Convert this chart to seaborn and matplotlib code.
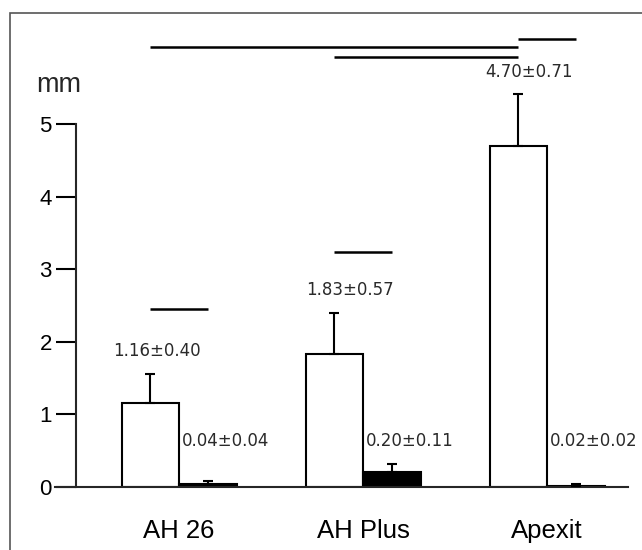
import matplotlib
matplotlib.use('Agg')
import matplotlib.pyplot as plt
import seaborn as sns
import pandas as pd
import numpy as np
from matplotlib.patches import Rectangle

# ---- data ----
categories = ['AH 26', 'AH Plus', 'Apexit']
series = ['Group 1', 'Group 2']
means_1 = [1.16, 1.83, 4.70]
sds_1 = [0.40, 0.57, 0.71]
means_2 = [0.04, 0.20, 0.02]
sds_2 = [0.04, 0.11, 0.02]
y_ticks = [0, 1, 2, 3, 4, 5]
unit_label = 'mm'
# significance bars: (category_a, series_a, category_b, series_b, height)
sig_bars = [
    ('AH 26', 'Group 1', 'AH 26', 'Group 2', 2.45),
    ('AH Plus', 'Group 1', 'AH Plus', 'Group 2', 3.24),
    ('AH 26', 'Group 1', 'Apexit', 'Group 1', 6.06),
    ('AH Plus', 'Group 1', 'Apexit', 'Group 1', 5.92),
    ('Apexit', 'Group 1', 'Apexit', 'Group 2', 6.17),
]
big_label_x = [-0.12, 0.93, 1.90]

sns.set_style('ticks')
plt.rcParams['font.family'] = ['Liberation Sans', 'DejaVu Sans']

df = pd.DataFrame({
    'category': categories * 2,
    'series': [series[0]] * len(categories) + [series[1]] * len(categories),
    'value': means_1 + means_2,
})

W, H = 642, 550
fig = plt.figure(figsize=(W / 100, H / 100), dpi=100)
fig.patch.set_facecolor('white')
ax = fig.add_axes([55 / W, 63 / H, 573 / W, 363 / H])

sns.barplot(data=df, x='category', y='value', hue='series', order=categories,
            hue_order=series, palette={series[0]: 'white', series[1]: 'black'},
            edgecolor='black', linewidth=1.5, width=0.625, errorbar=None,
            legend=False, saturation=1, ax=ax)

ax.set_xlim(-0.674, 2.44)
ax.set_ylim(0, 5)

# bar centres from the drawn patches
centers = {}
for p in ax.patches:
    cx = p.get_x() + p.get_width() / 2
    ci = int(round(cx))
    s = series[0] if cx < ci else series[1]
    centers[(categories[ci], s)] = cx

for s, m, sd in [(series[0], means_1, sds_1), (series[1], means_2, sds_2)]:
    xs = [centers[(c, s)] for c in categories]
    cont = ax.errorbar(xs, m, yerr=[np.zeros(len(m)), sd], fmt='none',
                       ecolor='black', elinewidth=1.5, capsize=3.6,
                       capthick=1.5, zorder=3)
    for art in cont.lines[1]:
        art.set_clip_on(False)
    for art in cont.lines[2]:
        art.set_clip_on(False)

# significance lines
for ca, sa, cb, sb, h in sig_bars:
    ax.plot([centers[(ca, sa)], centers[(cb, sb)]], [h, h], color='black',
            lw=1.8, clip_on=False, solid_capstyle='butt')

# value labels
for i, (m, sd) in enumerate(zip(means_1, sds_1)):
    ax.text(big_label_x[i], m + sd + 0.31, f'{m:.2f}±{sd:.2f}', ha='center',
            va='center', fontsize=12, family='DejaVu Sans', color='#2a2a2a',
            clip_on=False)
for i, (m, sd) in enumerate(zip(means_2, sds_2)):
    ax.text(i + 0.016, 0.64, f'{m:.2f}±{sd:.2f}', ha='left', va='center',
            fontsize=12, family='DejaVu Sans', color='#2a2a2a', clip_on=False)

# axes styling
for side in ['top', 'right']:
    ax.spines[side].set_visible(False)
ax.spines['left'].set_position(('data', -0.56))
ax.spines['left'].set_linewidth(1.5)
ax.spines['bottom'].set_linewidth(1.5)
ax.set_yticks(y_ticks)
ax.tick_params(axis='y', length=14.4, width=1.5, direction='out', pad=3,
               labelsize=16, colors='black')
ax.tick_params(axis='x', length=0, pad=23, labelsize=18.5, colors='black')
ax.set_xlabel('')
ax.set_ylabel('')

fig.text(59 / W, 1 - 85 / H, unit_label, fontsize=19.5, ha='center', va='center')

# outer frame
fig.add_artist(Rectangle((10 / W, -0.05), 1.0, 1 - 13 / H + 0.05,
                         transform=fig.transFigure, fill=False,
                         edgecolor='#555555', lw=1.2))

fig.savefig('out.png', dpi=100)
